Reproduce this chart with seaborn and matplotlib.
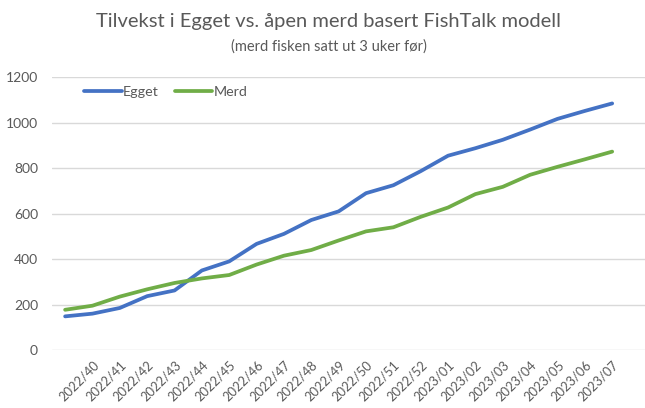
import numpy as np
import pandas as pd
import matplotlib
matplotlib.use("Agg")
import matplotlib.pyplot as plt
import seaborn as sns

weeks = ["", "2022/40", "2022/41", "2022/42", "2022/43", "2022/44", "2022/45",
         "2022/46", "2022/47", "2022/48", "2022/49", "2022/50", "2022/51",
         "2022/52", "2023/01", "2023/02", "2023/03", "2023/04", "2023/05",
         "2023/06", "2023/07"]
egget = [148, 160, 185, 237, 262, 350, 390, 467, 511, 572, 610, 690, 725,
         787, 855, 888, 925, 970, 1017, 1052, 1085]
merd = [177, 195, 235, 267, 295, 315, 330, 376, 415, 440, 482, 522, 540,
        586, 627, 686, 718, 771, 806, 839, 873]

sns.set_style("white")
plt.rcParams['font.family'] = ['Lato', 'DejaVu Sans']

grey = "#595959"
grid = "#d9d9d9"

fig = plt.figure(figsize=(6.45, 4.08), dpi=100)
ax = fig.add_axes([52 / 645, 1 - 350 / 408, 1 - 52 / 645, (350 - 77.3) / 408])

x = np.arange(len(weeks))
sns.lineplot(x=x, y=egget, ax=ax, color="#4472C4", linewidth=2.7, label="Egget")
sns.lineplot(x=x, y=merd, ax=ax, color="#70AD47", linewidth=2.7, label="Merd")

ax.set_xlim(-0.48, 21.2)
ax.set_ylim(0, 1200)
ax.set_yticks(range(0, 1201, 200))
ax.yaxis.grid(True, color=grid, linewidth=1)
ax.set_axisbelow(True)
for s in ax.spines.values():
    s.set_visible(False)

ax.set_xticks(x)
ax.set_xticklabels(weeks, rotation=45, ha="right", rotation_mode="anchor",
                   fontsize=9.3, color=grey)
ax.tick_params(axis="x", length=0, pad=6)
ax.tick_params(axis="y", length=0, pad=10, labelsize=10, labelcolor=grey)

leg = ax.legend(loc="upper left", bbox_to_anchor=(0.033, 1.015), ncol=2, frameon=False,
                handlelength=2.6, handletextpad=0.1, columnspacing=1.1,
                fontsize=10.3)
for t in leg.get_texts():
    t.set_color(grey)

fig.text(0.51, 0.948, "Tilvekst i Egget vs. åpen merd basert FishTalk modell",
         ha="center", va="center", fontsize=14.5, color=grey)
fig.text(0.51, 0.885, "(merd fisken satt ut 3 uker før)",
         ha="center", va="center", fontsize=10.5, color=grey)

fig.savefig("out.png", dpi=100)
